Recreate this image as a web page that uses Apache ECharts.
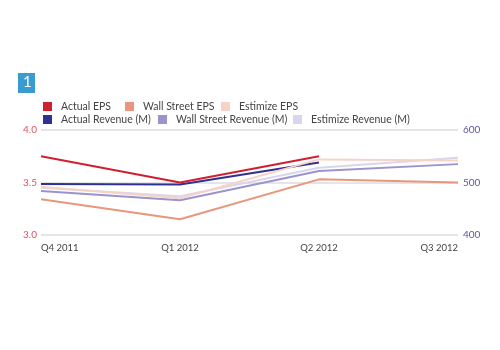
<!DOCTYPE html>
<html><head><meta charset="utf-8">
<script src="https://cdn.jsdelivr.net/npm/echarts@6/dist/echarts.min.js"></script>
<style>html,body{margin:0;padding:0;background:#fff}#c{width:500px;height:350px}</style>
</head><body><div id="c"></div>
<script>
var categories = ['Q4 2011', 'Q1 2012', 'Q2 2012', 'Q3 2012'];
var actualEPS = [3.75, 3.50, 3.75, null];
var wallStreetEPS = [3.34, 3.15, 3.53, 3.50];
var estimizeEPS = [3.46, 3.35, 3.72, 3.71];
var actualRevenue = [497, 496, 538, null];
var wallStreetRevenue = [484, 466, 522, 535];
var estimizeRevenue = [490, 474, 528, 547];
var epsTicks = [3.0, 3.5, 4.0];
var revTicks = [400, 500, 600];

var FONT = 'Lato';
var names = ['Actual EPS','Wall Street EPS','Estimize EPS','Actual Revenue (M)','Wall Street Revenue (M)','Estimize Revenue (M)'];
var colors = ['#d01f2e','#e9967c','#f6d3c6','#2e3192','#9b93cc','#d8d6ef'];
var legendPos = [[43,101],[125,101],[221,101],[43,114],[158,114],[293,114]];

function legendFor(i){
  return {data:[names[i]], left:legendPos[i][0], top:legendPos[i][1], padding:0, itemWidth:9, itemHeight:9,
    icon:'rect', textStyle:{fontFamily:FONT,fontSize:10.5,color:'#444',padding:[0,0,0,4]}, selectedMode:false};
}
function ser(i, data, yi){
  return {name:names[i], type:'line', yAxisIndex:yi, data:data, symbol:'none', smooth:false,
    lineStyle:{width:2,color:colors[i]}, itemStyle:{color:colors[i]}, z: 10-i};
}
var chart = echarts.init(document.getElementById('c'));
chart.setOption({
  animation:false,
  graphic:[
    {type:'rect', left:18, top:73, shape:{width:17,height:20}, style:{fill:'#3a9bd0'}},
    {type:'text', left:23, top:75, style:{text:'1', fill:'#fff', font:'15px '+FONT}}
  ],
  legend:[0,1,2,3,4,5].map(legendFor),
  grid:{left:41, right:42, top:130, height:105},
  xAxis:{type:'category', data:categories, boundaryGap:false,
    axisLine:{show:false}, axisTick:{show:false},
    axisLabel:{color:'#444', fontFamily:FONT, fontSize:9.5, margin:8, alignMinLabel:'left', alignMaxLabel:'right'}},
  yAxis:[
    {type:'value', min:epsTicks[0], max:epsTicks[2], interval:0.5, position:'left',
      axisLine:{show:false}, axisTick:{show:false},
      axisLabel:{color:'#e0535f', fontFamily:FONT, fontSize:10, margin:4, formatter:function(v){return v.toFixed(1);}},
      splitLine:{lineStyle:{color:'#dcdcdc', width:1.5}}},
    {type:'value', min:revTicks[0], max:revTicks[2], interval:100, position:'right',
      axisLine:{show:false}, axisTick:{show:false},
      axisLabel:{color:'#5a56a8', fontFamily:FONT, fontSize:10, margin:5},
      splitLine:{show:false}}
  ],
  series:[
    ser(5, estimizeRevenue, 1),
    ser(2, estimizeEPS, 0),
    ser(4, wallStreetRevenue, 1),
    ser(1, wallStreetEPS, 0),
    ser(3, actualRevenue, 1),
    ser(0, actualEPS, 0)
  ]
});
</script></body></html>
